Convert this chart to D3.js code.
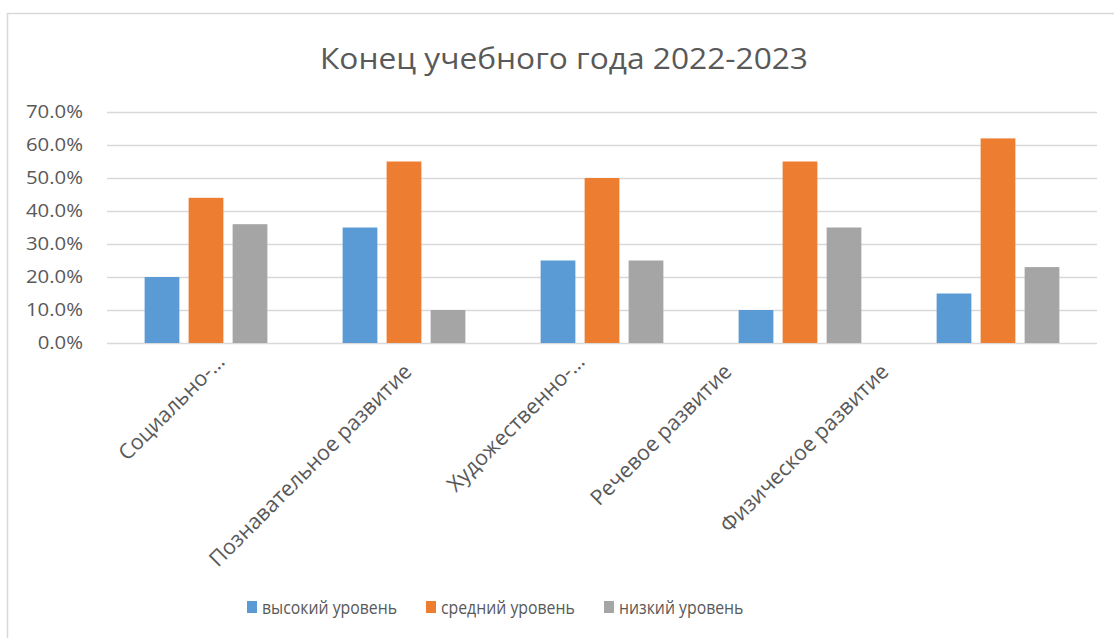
<!DOCTYPE html>
<html>
<head>
<meta charset="utf-8">
<script src="https://cdn.jsdelivr.net/npm/d3@7"></script>
<style>
  html, body { margin: 0; padding: 0; background: #ffffff; }
  svg { display: block; }
  text { font-family: "Open Sans", "Noto Sans", sans-serif; fill: #595959; }
</style>
</head>
<body>
<svg id="chart" width="1114" height="638"></svg>
<script>
const title = "Конец учебного года 2022-2023";
const categories = [
  "Социально-…",
  "Познавательное развитие",
  "Художественно-…",
  "Речевое развитие",
  "Физическое развитие"
];
const seriesNames = ["высокий уровень", "средний уровень", "низкий уровень"];
const seriesColors = ["#5B9BD5", "#ED7D31", "#A5A5A5"];
const high = [0.20, 0.35, 0.25, 0.10, 0.15];
const mid  = [0.44, 0.55, 0.50, 0.55, 0.62];
const low  = [0.36, 0.10, 0.25, 0.35, 0.23];
const yTicks = [0, 0.1, 0.2, 0.3, 0.4, 0.5, 0.6, 0.7];

const seriesValues = [high, mid, low];

const svg = d3.select("#chart");

svg.append("rect")
  .attr("x", 7.5).attr("y", 13.5)
  .attr("width", 1200).attr("height", 700)
  .attr("fill", "#fff").attr("stroke", "#d9d9d9").attr("stroke-width", 1.5);

const plot = { left: 107, right: 1097, top: 112, bottom: 343 };

const x0 = d3.scaleBand().domain(categories).range([plot.left, plot.right]).paddingInner(0).paddingOuter(0);
const x1 = d3.scaleBand().domain(seriesNames).range([0, x0.bandwidth()]).paddingInner(0.21).paddingOuter(0.855);
const y = d3.scaleLinear().domain([0, 0.7]).range([plot.bottom, plot.top]);

function measure(sample, size) {
  const t = svg.append("text").attr("font-size", size).text(sample);
  const w = t.node().getComputedTextLength();
  t.remove();
  return w;
}
function condense(sel, ratio) {
  sel.each(function () {
    const w = this.getComputedTextLength();
    d3.select(this).attr("textLength", w * ratio).attr("lengthAdjust", "spacingAndGlyphs");
  });
}

// gridlines
svg.append("g").selectAll("line").data(yTicks).join("line")
  .attr("x1", plot.left).attr("x2", plot.right)
  .attr("y1", d => Math.round(y(d)) + 0.5).attr("y2", d => Math.round(y(d)) + 0.5)
  .attr("stroke", "#d9d9d9").attr("stroke-width", 1.3);

// y axis labels
const ySize = 18.5;
const yRatio = 57 / measure("70.0%", ySize);
const yAxis = d3.axisLeft(y).tickValues(yTicks).tickFormat(d3.format(".1%")).tickSize(0).tickPadding(0);
const yg = svg.append("g").attr("transform", "translate(83,0)").call(yAxis);
yg.select(".domain").remove();
yg.selectAll("text").attr("font-size", ySize).attr("fill", "#595959")
  .style("font-family", "'Open Sans', 'Noto Sans', sans-serif");
condense(yg.selectAll("text"), yRatio);

// bars
const groups = svg.append("g").selectAll("g").data(categories).join("g")
  .attr("transform", d => `translate(${x0(d)},0)`);
groups.selectAll("rect").data((c, i) => seriesNames.map((s, j) => ({ s, j, v: seriesValues[j][i] })))
  .join("rect")
  .attr("x", d => x1(d.s))
  .attr("width", x1.bandwidth())
  .attr("y", d => y(d.v))
  .attr("height", d => y(0) - y(d.v))
  .attr("fill", d => seriesColors[d.j]);

// x labels (rotated -45)
const labelEnds = [[226, 363], [413, 373], [586, 363], [733, 373], [890, 373]];
const xSize = 18 * 276 / measure("Познавательное развитие", 18);
svg.append("g").selectAll("text").data(categories).join("text")
  .attr("transform", (d, i) => `translate(${labelEnds[i][0]},${labelEnds[i][1]}) rotate(-45)`)
  .attr("text-anchor", "end")
  .attr("font-size", xSize)
  .text(d => d);

// title
const tSize = 28.5;
const tt = svg.append("text")
  .attr("x", 564).attr("y", 69)
  .attr("text-anchor", "middle")
  .attr("font-size", tSize)
  .text(title);
condense(tt, 488 / measure(title, tSize));

// legend
const legendX = [247, 426, 604];
const lSize = 19;
const lRatio = 135 / measure("высокий уровень", lSize);
const lg = svg.append("g").selectAll("g").data(seriesNames).join("g")
  .attr("transform", (d, i) => `translate(${legendX[i]},0)`);
lg.append("rect").attr("x", 0).attr("y", 601).attr("width", 10).attr("height", 12)
  .attr("fill", (d, i) => seriesColors[i]);
const lt = lg.append("text").attr("x", 15).attr("y", 614).attr("font-size", lSize).text(d => d);
condense(lt, lRatio);
</script>
</body>
</html>
